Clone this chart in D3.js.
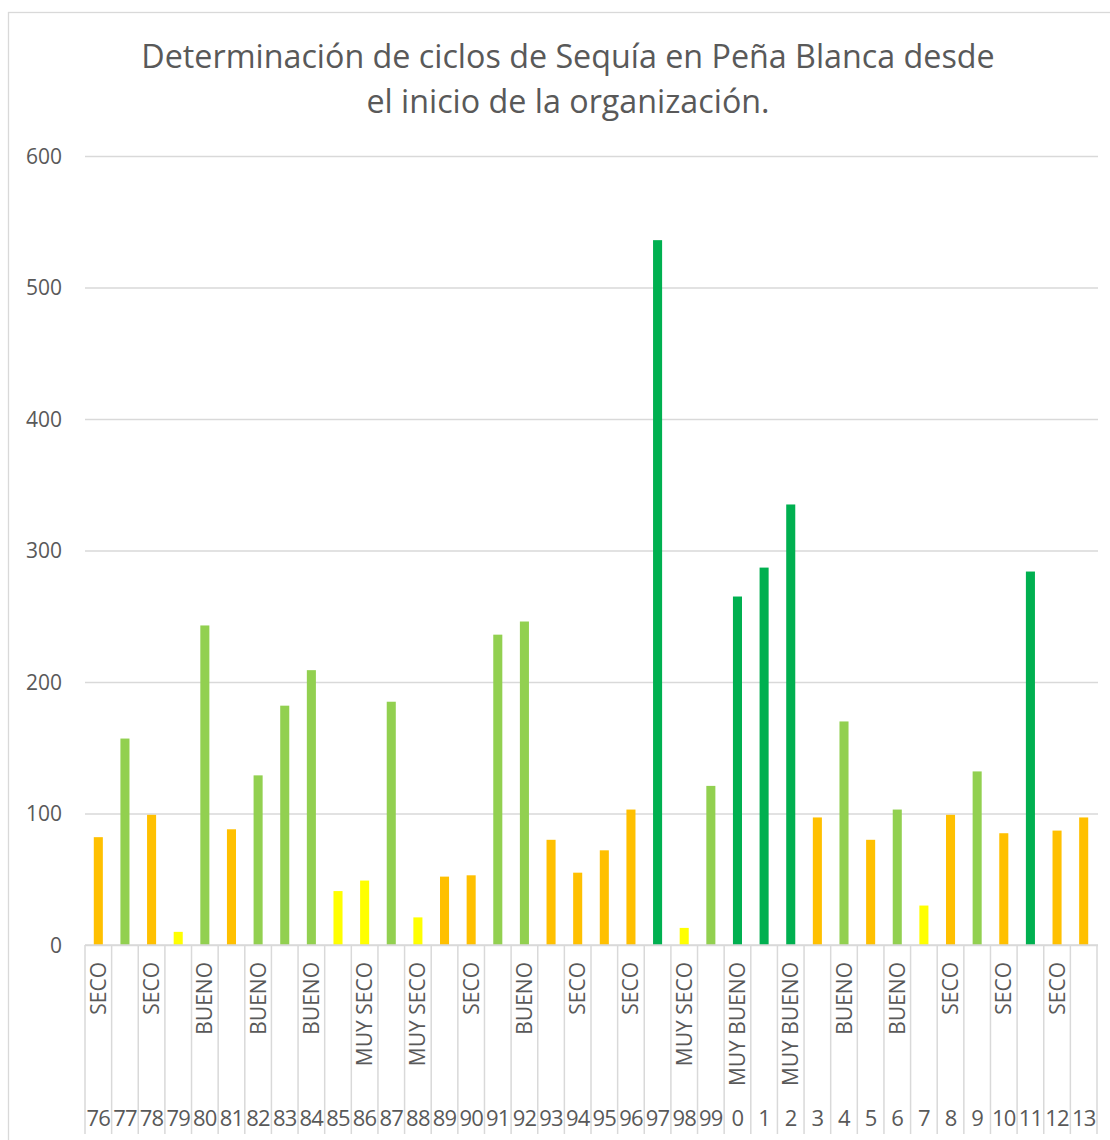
<!DOCTYPE html>
<html>
<head>
<meta charset="utf-8">
<script src="https://cdn.jsdelivr.net/npm/d3@7"></script>
<style>
  html, body { margin: 0; padding: 0; background: #fff; }
  svg { display: block; }
  text { font-family: "Open Sans", "Noto Sans", sans-serif; fill: #595959; }
</style>
</head>
<body>
<svg id="chart" width="1110" height="1140"></svg>
<script>
// ---- data ----
const years = ["76","77","78","79","80","81","82","83","84","85","86","87","88","89","90","91","92","93","94","95","96","97","98","99","0","1","2","3","4","5","6","7","8","9","10","11","12","13"];
const rainfall = [82,157,99,10,243,88,129,182,209,41,49,185,21,52,53,236,246,80,55,72,103,536,13,121,265,287,335,97,170,80,103,30,99,132,85,284,87,97];
const condition = ["SECO","BUENO","SECO","MUY SECO","BUENO","SECO","BUENO","BUENO","BUENO","MUY SECO","MUY SECO","BUENO","MUY SECO","SECO","SECO","BUENO","BUENO","SECO","SECO","SECO","SECO","MUY BUENO","MUY SECO","BUENO","MUY BUENO","MUY BUENO","MUY BUENO","SECO","BUENO","SECO","BUENO","MUY SECO","SECO","BUENO","SECO","MUY BUENO","SECO","SECO"];
const conditionNames = ["MUY SECO","SECO","BUENO","MUY BUENO"];
const conditionColors = ["#FFFF00","#FFC000","#92D050","#00B050"];
const yTicks = [0,100,200,300,400,500,600];
const titleLines = ["Determinación de ciclos de Sequía en Peña Blanca desde","el inicio de la organización."];

// ---- layout ----
const svg = d3.select("#chart");
const plot = { left: 85, right: 1097, top: 156, bottom: 945 };
const gridColor = "#d9d9d9";

const data = years.map((y, i) => ({ year: y, value: rainfall[i], cond: condition[i], idx: i }));

const x = d3.scaleBand().domain(years).range([plot.left, plot.right]).paddingInner(0.66).paddingOuter(0.33);
const y = d3.scaleLinear().domain([0, 600]).range([plot.bottom, plot.top]);
const color = d3.scaleOrdinal().domain(conditionNames).range(conditionColors);

// chart border
svg.append("rect").attr("x", 8.5).attr("y", 12.5).attr("width", 1200).attr("height", 1200)
  .attr("fill", "none").attr("stroke", gridColor).attr("stroke-width", 1.3);

// title
const title = svg.append("text").attr("text-anchor", "middle").attr("font-size", 30);
titleLines.forEach((t, i) => {
  title.append("tspan").attr("x", 568).attr("y", i === 0 ? 68 : 113).text(t);
});
const firstLen = title.select("tspan").node().getComputedTextLength();
title.attr("font-size", 30 * 854 / firstLen);

// y axis gridlines + labels
const yAxis = d3.axisLeft(y).tickValues(yTicks).tickSize(-(plot.right + 1 - plot.left)).tickPadding(23);
const gy = svg.append("g").attr("transform", `translate(${plot.left},0)`).call(yAxis);
gy.select(".domain").remove();
gy.selectAll(".tick line").attr("stroke", gridColor).attr("stroke-width", 1.5);
gy.selectAll(".tick text").attr("font-size", 21).attr("fill", "#595959")
  .attr("font-family", "'Open Sans', sans-serif").attr("dy", "0.34em");

// bars
svg.append("g").selectAll("rect").data(data).join("rect")
  .attr("x", d => x(d.year))
  .attr("width", x.bandwidth())
  .attr("y", d => y(d.value))
  .attr("height", d => y(0) - y(d.value))
  .attr("fill", d => color(d.cond));

// category separators (multi-level axis)
const step = x.step();
const bounds = d3.range(years.length + 1).map(i => plot.left + i * step);
svg.append("g").selectAll("line").data(bounds).join("line")
  .attr("x1", d => d).attr("x2", d => d)
  .attr("y1", plot.bottom).attr("y2", 1134)
  .attr("stroke", gridColor).attr("stroke-width", 1.5);
// baseline
svg.append("line").attr("x1", plot.left).attr("x2", plot.right + 1)
  .attr("y1", plot.bottom).attr("y2", plot.bottom)
  .attr("stroke", gridColor).attr("stroke-width", 1.5);

// condition labels (every other category shown)
const cx = d => x(d.year) + x.bandwidth() / 2;
svg.append("g").selectAll("text").data(data.filter(d => d.idx % 2 === 0)).join("text")
  .attr("transform", d => `translate(${cx(d) + 7.5},962) rotate(-90)`)
  .attr("text-anchor", "end")
  .attr("font-size", 21)
  .text(d => d.cond);

// year labels
svg.append("g").selectAll("text").data(data).join("text")
  .attr("x", d => cx(d))
  .attr("y", 1126)
  .attr("text-anchor", "middle")
  .attr("font-size", 22)
  .attr("letter-spacing", -0.8)
  .text(d => d.year);
</script>
</body>
</html>
